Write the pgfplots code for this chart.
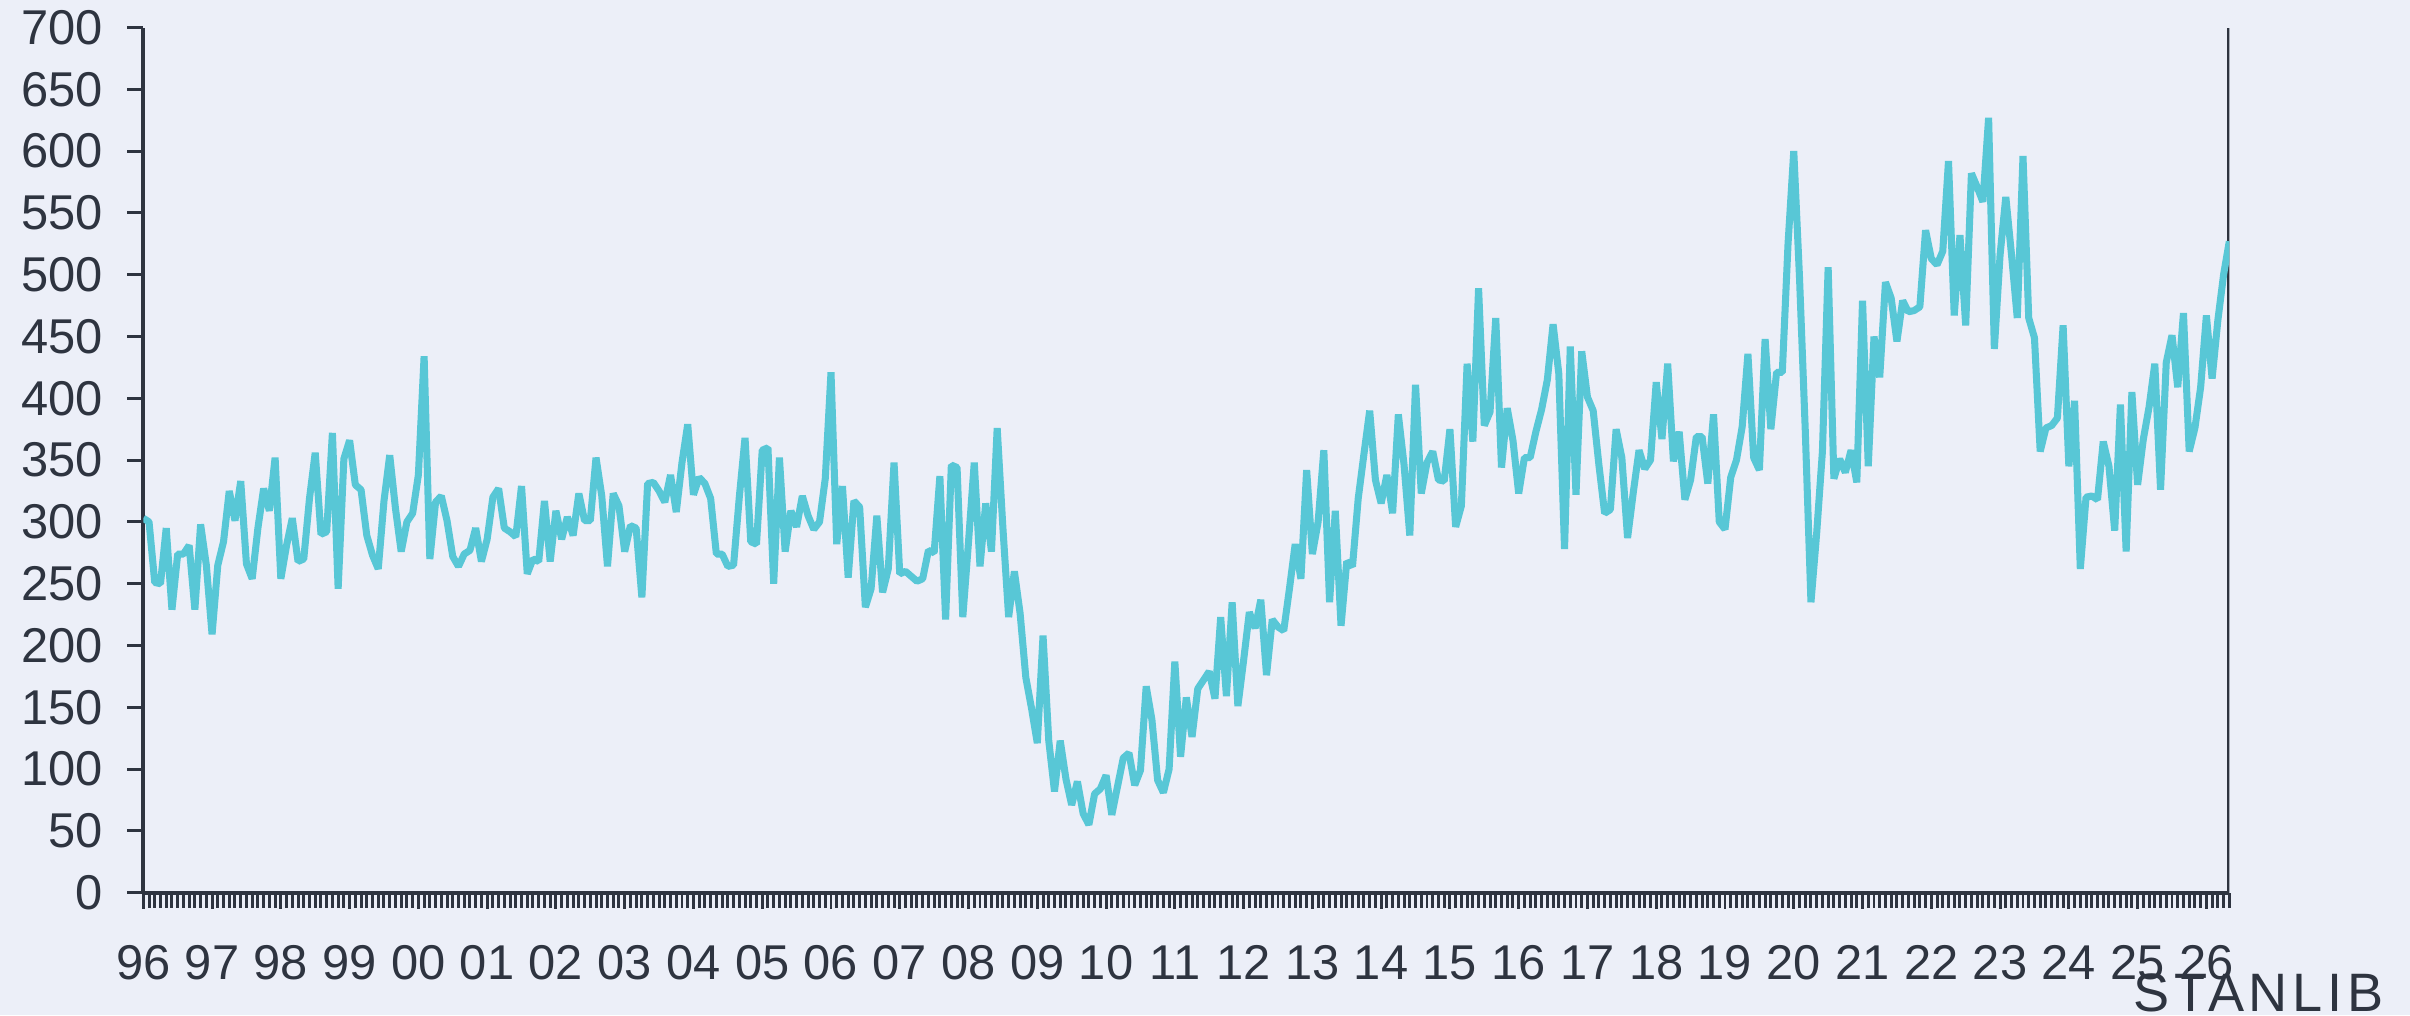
\documentclass[border=0pt]{standalone}
\usepackage{fontspec}
\setmainfont{Liberation Sans}
\newfontfamily\logofont[LetterSpace=8.7]{Liberation Sans}
\usepackage{pgfplots}
\pgfplotsset{compat=1.18}

\definecolor{bg}{RGB}{236,239,248}
\definecolor{ink}{RGB}{46,52,64}
\definecolor{teal}{RGB}{88,199,214}

\begin{document}
\begin{tikzpicture}
\fill[bg] (0,0) rectangle (24.1,10.15);
\useasboundingbox (0,0) rectangle (24.1,10.15);
\begin{axis}[
    at={(1.433cm,1.223cm)}, anchor=south west,
    scale only axis,
    width=20.86cm, height=8.652cm,
    xmin=0, xmax=364, ymin=0, ymax=700,
    axis x line*=bottom, axis y line*=left,
    axis line style={ink, line width=1.1pt, -},
    ytick={0,50,...,700},
    xtick={0,12,...,360},
    xticklabels={96,97,98,99,00,01,02,03,04,05,06,07,08,09,10,11,12,13,14,15,16,17,18,19,20,21,22,23,24,25,26},
    minor xtick={0,...,364},
    tick align=outside,
    major tick length=0.16cm, minor tick length=0.15cm,
    every tick/.append style={ink, line width=0.85pt},
    every minor tick/.append style={ink, line width=0.85pt},
    tick label style={font=\fontsize{13.9}{16}\selectfont, text=ink},
    /pgf/number format/assume math mode=true,
    yticklabel style={anchor=east, inner sep=0pt, xshift=-0.24cm},
    xticklabel style={anchor=north, inner sep=0pt, yshift=-0.36cm},
]
\draw[ink, line width=1.1pt] (rel axis cs:1,0) -- (rel axis cs:1,1);

% monthly values, one row per year (Jan 1996 = 0)
\addplot[teal, line width=2pt, line join=bevel, mark=none] coordinates {
(0,303)(1,300)(2,251)(3,250)(4,295)(5,229)(6,274)(7,274)(8,281)(9,229)(10,298)(11,265)
(12,209)(13,265)(14,284)(15,325)(16,301)(17,333)(18,266)(19,254)(20,295)(21,327)(22,309)(23,352)
(24,254)(25,281)(26,303)(27,268)(28,270)(29,319)(30,356)(31,290)(32,292)(33,372)(34,246)(35,351)
(36,366)(37,330)(38,326)(39,289)(40,273)(41,262)(42,317)(43,354)(44,311)(45,276)(46,300)(47,307)
(48,338)(49,434)(50,270)(51,316)(52,321)(53,301)(54,272)(55,264)(56,274)(57,277)(58,295)(59,268)
(60,286)(61,320)(62,327)(63,295)(64,292)(65,288)(66,329)(67,258)(68,270)(69,268)(70,317)(71,268)
(72,309)(73,286)(74,304)(75,289)(76,323)(77,301)(78,301)(79,352)(80,321)(81,264)(82,323)(83,313)
(84,276)(85,297)(86,295)(87,239)(88,331)(89,332)(90,325)(91,316)(92,338)(93,308)(94,348)(95,379)
(96,322)(97,336)(98,331)(99,319)(100,274)(101,274)(102,264)(103,265)(104,320)(105,368)(106,284)(107,282)
(108,358)(109,360)(110,250)(111,352)(112,276)(113,309)(114,296)(115,321)(116,305)(117,294)(118,300)(119,335)
(120,421)(121,282)(122,329)(123,255)(124,317)(125,312)(126,231)(127,246)(128,305)(129,243)(130,262)(131,348)
(132,258)(133,260)(134,256)(135,252)(136,254)(137,277)(138,275)(139,337)(140,221)(141,346)(142,344)(143,223)
(144,284)(145,348)(146,264)(147,315)(148,276)(149,376)(150,295)(151,223)(152,260)(153,226)(154,174)(155,149)
(156,121)(157,208)(158,123)(159,82)(160,123)(161,92)(162,71)(163,90)(164,64)(165,55)(166,80)(167,84)
(168,95)(169,63)(170,86)(171,109)(172,113)(173,87)(174,99)(175,167)(176,140)(177,91)(178,81)(179,100)
(180,187)(181,110)(182,158)(183,126)(184,165)(185,172)(186,179)(187,157)(188,223)(189,159)(190,235)(191,151)
(192,188)(193,227)(194,214)(195,237)(196,176)(197,221)(198,215)(199,212)(200,246)(201,282)(202,254)(203,342)
(204,274)(205,300)(206,358)(207,235)(208,309)(209,216)(210,268)(211,264)(212,319)(213,355)(214,390)(215,334)
(216,315)(217,338)(218,307)(219,387)(220,346)(221,289)(222,411)(223,323)(224,348)(225,357)(226,334)(227,333)
(228,375)(229,296)(230,313)(231,428)(232,365)(233,489)(234,378)(235,389)(236,465)(237,344)(238,392)(239,366)
(240,323)(241,352)(242,352)(243,373)(244,391)(245,415)(246,460)(247,420)(248,278)(249,442)(250,322)(251,438)
(252,401)(253,390)(254,346)(255,307)(256,310)(257,375)(258,352)(259,287)(260,324)(261,358)(262,343)(263,350)
(264,413)(265,367)(266,428)(267,349)(268,373)(269,318)(270,334)(271,369)(272,369)(273,331)(274,387)(275,300)
(276,294)(277,336)(278,350)(279,377)(280,436)(281,352)(282,342)(283,448)(284,375)(285,421)(286,421)(287,525)
(288,600)(289,498)(290,375)(291,235)(292,291)(293,357)(294,506)(295,335)(296,351)(297,340)(298,358)(299,332)
(300,479)(301,345)(302,450)(303,417)(304,494)(305,481)(306,446)(307,479)(308,470)(309,471)(310,474)(311,536)
(312,513)(313,508)(314,519)(315,592)(316,467)(317,532)(318,459)(319,582)(320,571)(321,559)(322,627)(323,440)
(324,516)(325,563)(326,516)(327,465)(328,596)(329,465)(330,449)(331,357)(332,376)(333,378)(334,384)(335,459)
(336,345)(337,398)(338,262)(339,320)(340,321)(341,318)(342,365)(343,345)(344,293)(345,395)(346,276)(347,405)
(348,330)(349,367)(350,393)(351,428)(352,326)(353,429)(354,451)(355,409)(356,469)(357,357)(358,376)(359,409)
(360,467)(361,416)(362,463)(363,500)(364,527)
};
\end{axis}
\node[anchor=base, font=\logofont\fontsize{15.4}{18}\selectfont, text=ink, inner sep=0pt] at (22.585,0.04) {STANLIB};
\end{tikzpicture}
\end{document}
